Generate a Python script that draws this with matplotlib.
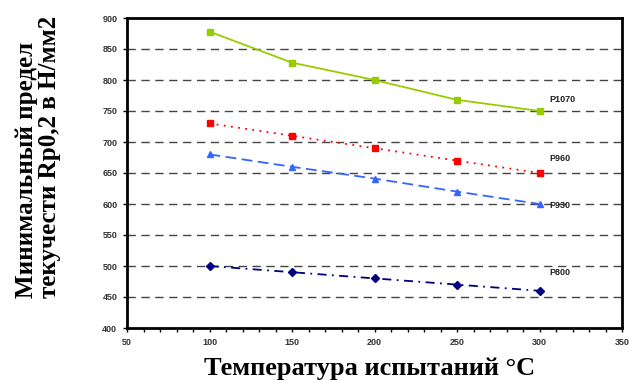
import matplotlib
matplotlib.use("Agg")
import matplotlib.pyplot as plt
from matplotlib.ticker import MultipleLocator

temps = [100, 150, 200, 250, 300]
p1070 = [878, 828, 800, 768, 750]
p960 = [730, 710, 690, 670, 650]
p930 = [680, 660, 641, 620, 600]
p800 = [500, 490, 480, 470, 460]

names = ["P1070", "P960", "P930", "P800"]
name_y = [768, 674, 598, 490]

fig = plt.figure(figsize=(6.3, 3.8), dpi=100)
ax = fig.add_axes([127 / 630, 52 / 380, 495 / 630, 310 / 380])

ax.plot(temps, p1070, color="#99cc00", lw=1.3, ls="-", marker="s", ms=5, zorder=3)
ax.plot(temps, p960, color="#ff0000", lw=1.3, ls=(0, (1, 3)), marker="s", ms=4, zorder=3)
ax.plot(temps, p930, color="#3366ff", lw=1.3, ls=(0, (6, 3)), marker="^", ms=4, zorder=3)
ax.plot(temps, p800, color="#000080", lw=1.3, ls=(0, (5, 3, 1, 3)), marker="D", ms=4, zorder=3)

for n, y in zip(names, name_y):
    ax.text(306, y, n, fontsize=6.5, fontweight="bold", color="#222222",
            va="center", ha="left", family="Liberation Sans", zorder=4)

ax.set_xlim(50, 350)
ax.set_ylim(400, 900)
ax.xaxis.set_major_locator(MultipleLocator(50))
ax.xaxis.set_minor_locator(MultipleLocator(10))
ax.yaxis.set_major_locator(MultipleLocator(50))

for y in range(450, 900, 50):
    ax.axhline(y, color="#444444", lw=1.0, ls=(0, (6, 4)), zorder=1)

for s in ax.spines.values():
    s.set_linewidth(2)
    s.set_color("black")

ax.tick_params(which="both", direction="out", length=3, width=1, color="black")
ax.tick_params(axis="y", which="minor", left=False)
for lab in ax.get_xticklabels() + ax.get_yticklabels():
    lab.set_fontsize(6.5)
    lab.set_fontweight("bold")
    lab.set_color("#333333")
    lab.set_family("Liberation Sans")
ax.tick_params(axis="x", pad=4)
ax.tick_params(axis="y", pad=4)

ax.set_xlabel("Температура испытаний °C", fontsize=19, fontweight="bold",
              family="Liberation Serif")
ax.xaxis.set_label_coords(0.49, -0.094, transform=ax.transAxes)
ax.xaxis.label.set_va("top")
fig.text(38 / 630, 1 - 298 / 380, "Минимальный предел\nтекучести Rp0,2 в Н/мм2",
         fontsize=18, fontweight="bold", family="Liberation Serif",
         rotation=90, ha="center", va="bottom", multialignment="left",
         linespacing=0.95)

fig.savefig("out.png", dpi=100)
